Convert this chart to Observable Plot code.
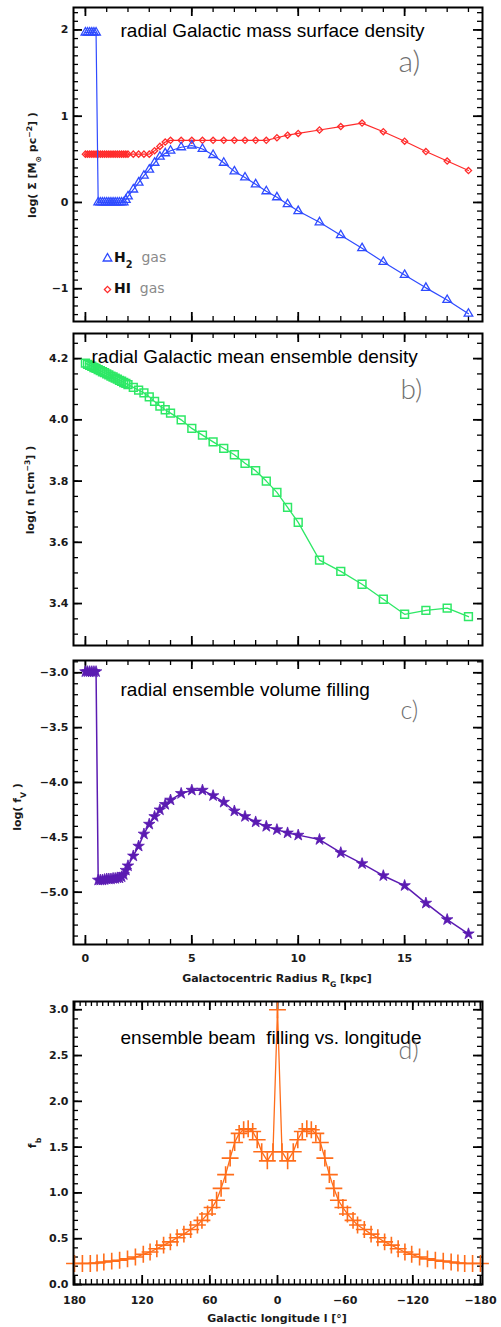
<!DOCTYPE html>
<html><head><meta charset="utf-8">
<script src="https://cdn.jsdelivr.net/npm/d3@7"></script>
<script src="https://cdn.jsdelivr.net/npm/@observablehq/plot@0.6"></script>
<style>
body{margin:0;background:#fff;}
#chart{width:501px;}
#chart svg{display:block;}
svg text{white-space:pre;}
</style></head><body><div id="chart"></div>
<script>
// ---- data ----
const radius = [0,0.1,0.2,0.3,0.4,0.5,0.6,0.7,0.8,0.9,1.0,1.1,1.2,1.3,1.4,1.5,1.6,1.7,1.8,1.9,2.0,
  2.25,2.5,2.75,3.0,3.25,3.5,3.75,4.0,4.5,5.0,5.5,6.0,6.5,7.0,7.5,8.0,8.5,9.0,9.5,10,11,12,13,14,15,16,17,18];
const h2Gas = [1.97,1.97,1.97,1.97,1.97,1.97,0,0,0,0,0,0,0,0,0,0,0,0,0,0.03,0.07,
  0.15,0.23,0.31,0.38,0.46,0.53,0.57,0.60,0.64,0.66,0.62,0.55,0.46,0.36,0.29,0.21,0.13,0.06,-0.02,-0.10,
  -0.23,-0.38,-0.53,-0.69,-0.84,-0.99,-1.13,-1.29];
const hiGas = [0.56,0.56,0.56,0.56,0.56,0.56,0.56,0.56,0.56,0.56,0.56,0.56,0.56,0.56,0.56,0.56,0.56,0.56,0.56,0.56,0.56,
  0.56,0.56,0.56,0.56,0.60,0.65,0.70,0.72,0.72,0.72,0.72,0.72,0.72,0.72,0.72,0.72,0.72,0.75,0.78,0.80,
  0.84,0.88,0.92,0.82,0.71,0.59,0.48,0.37];
const ensembleDensity = [4.185,4.181,4.178,4.175,4.171,4.168,4.164,4.161,4.157,4.154,4.150,4.147,4.143,4.140,4.136,4.133,4.129,4.126,4.122,4.119,4.115,
  4.106,4.097,4.088,4.075,4.060,4.045,4.033,4.022,4.000,3.972,3.950,3.928,3.907,3.886,3.858,3.834,3.800,3.763,3.714,3.665,
  3.542,3.505,3.463,3.414,3.365,3.378,3.385,3.357];
const volumeFilling = [-2.99,-2.99,-2.99,-2.99,-2.99,-2.99,-4.89,-4.89,-4.89,-4.885,-4.88,-4.88,-4.88,-4.875,-4.875,-4.87,-4.87,-4.86,-4.84,-4.80,-4.76,
  -4.67,-4.58,-4.47,-4.38,-4.31,-4.25,-4.20,-4.16,-4.10,-4.07,-4.07,-4.12,-4.18,-4.26,-4.31,-4.36,-4.40,-4.43,-4.46,-4.48,
  -4.52,-4.64,-4.74,-4.85,-4.94,-5.10,-5.25,-5.38];
const longitude = [180,173,166,160,154,147,140,133,126,119,113,107,101,95,89,83,77,71,67,62,58,54,50,46,42,38,34,30,26,22,18,14,9,4,0,
  -4,-9,-14,-18,-22,-26,-30,-34,-38,-42,-46,-50,-54,-58,-62,-67,-71,-77,-83,-89,-95,-101,-107,-113,-119,-126,-133,-140,-147,-154,-160,-166,-173,-180];
const beamFilling = [0.23,0.23,0.23,0.235,0.245,0.255,0.265,0.28,0.30,0.33,0.355,0.39,0.43,0.465,0.51,0.55,0.60,0.65,0.70,0.77,0.84,0.92,1.05,1.20,1.38,1.55,1.65,1.69,1.70,1.67,1.58,1.45,1.35,1.45,3.0,
  1.45,1.35,1.45,1.58,1.67,1.70,1.69,1.65,1.55,1.38,1.20,1.05,0.92,0.84,0.77,0.70,0.65,0.60,0.55,0.51,0.465,0.43,0.39,0.355,0.33,0.30,0.28,0.265,0.255,0.245,0.235,0.23,0.23,0.23];

const radiusTicks = [0,5,10,15];
const sigmaTicks = [-1,0,1,2];
const densityTicks = [3.4,3.6,3.8,4.0,4.2];
const fillingTicks = [-5.0,-4.5,-4.0,-3.5,-3.0];
const beamTicks = [0,0.5,1.0,1.5,2.0,2.5,3.0];
const longitudeTicks = [180,120,60,0,-60,-120,-180];

const titles = ["radial Galactic mass surface density","radial Galactic mean ensemble density","radial ensemble volume filling","ensemble beam  filling vs. longitude"];
const panelTags = ["a)","b)","c)","d)"];

// ---- styling ----
const ink = "#1a1a1a";
const blue = "#2f4bff", red = "#ff2b2b", green = "#2ee866", purple = "#5b1bb2", orange = "#ff6d1a";
const baseStyle = {fontFamily:"DejaVu Sans, sans-serif", fontSize:"11px", fontWeight:"bold", color: ink, background:"white"};
const W = 501, ML = 73, MR = 19, IW = W - ML - MR;

const rows = radius.map((r,i)=>({r, h2:h2Gas[i], hi:hiGas[i], n:ensembleDensity[i], fv:volumeFilling[i]}));
const lrows = longitude.map((l,i)=>({l, fb:beamFilling[i]}));

// IDL-style inward ticks on all four sides, drawn as tick marks with insets
function frameAxes({IH, xMajor, xMinor, yMajor, yMinor, xFormat, yFormat, showX, xPad}) {
  const id = d => d;
  const mj = {stroke:"black", strokeWidth:1.8}, mn = {stroke:"black", strokeWidth:1.3};
  const LJ = 9, LN = 5;
  return [
    Plot.tickX(xMinor, {x:id, insetTop:IH-LN, ...mn}),
    Plot.tickX(xMajor, {x:id, insetTop:IH-LJ, ...mj}),
    Plot.tickX(xMinor, {x:id, insetBottom:IH-LN, ...mn}),
    Plot.tickX(xMajor, {x:id, insetBottom:IH-LJ, ...mj}),
    Plot.tickY(yMinor, {y:id, insetRight:IW-LN, ...mn}),
    Plot.tickY(yMajor, {y:id, insetRight:IW-LJ, ...mj}),
    Plot.tickY(yMinor, {y:id, insetLeft:IW-LN, ...mn}),
    Plot.tickY(yMajor, {y:id, insetLeft:IW-LJ, ...mj}),
    showX ? Plot.axisX(xMajor, {anchor:"bottom", tickSize:0, tickPadding:xPad, tickFormat:xFormat, label:null}) : null,
    Plot.axisY(yMajor, {anchor:"left", tickSize:0, tickPadding:5, tickFormat:yFormat, label:null})
  ];
}
function title(txt, dx, dy) {
  return Plot.text([txt], {frameAnchor:"top-left", dx, dy, textAnchor:"start", lineAnchor:"bottom",
    fontSize:19, fontFamily:"Liberation Sans, Arial, sans-serif", fontWeight:"normal", fill:"black"});
}
function tag(txt, dx, dy, size) {
  return Plot.text([txt], {frameAnchor:"top-left", dx, dy, textAnchor:"start", lineAnchor:"bottom",
    fontSize:size, fontFamily:"Lato, sans-serif", fontWeight:300, fill:"#707070"});
}
function rich(svg, x, y, rotate, parts, opts = {}) {
  const t = d3.select(svg).append("text")
    .attr("transform", `translate(${x},${y})` + (rotate ? " rotate(-90)" : ""))
    .attr("text-anchor", opts.anchor || "middle")
    .attr("dy", "0.35em")
    .attr("font-family", opts.family || "DejaVu Sans, sans-serif")
    .attr("font-size", opts.size || 11)
    .attr("font-weight", opts.weight || "bold")
    .attr("fill", opts.fill || ink);
  for (const p of parts) {
    const o = typeof p === "string" ? {t:p} : p;
    const s = t.append("tspan").text(o.t);
    if (o.sub) s.attr("baseline-shift", "sub").attr("font-size", "70%");
    if (o.sup) s.attr("baseline-shift", "super").attr("font-size", "70%");
    if (o.fill) s.attr("fill", o.fill);
    if (o.weight) s.attr("font-weight", o.weight);
  }
}

const xR = [-0.56, 18.66];
const rMinor = d3.range(0, 19);
const f0 = d3.format(".0f"), f1 = d3.format(".1f");

// ---- panel a ----
const pa = Plot.plot({
  width:W, height:330, marginLeft:ML, marginRight:MR, marginTop:7, marginBottom:9,
  style: baseStyle,
  x:{domain:xR, axis:null}, y:{domain:[-1.38, 2.26]},
  marks:[
    ...frameAxes({IH:314, xMajor:radiusTicks, xMinor:rMinor, yMajor:sigmaTicks, yMinor:d3.range(-13,23).map(i=>i/10), yFormat:f0, showX:false}),
    Plot.line(rows, {x:"r", y:"hi", stroke:red, strokeWidth:1.2}),
    Plot.dot(rows, {x:"r", y:"hi", symbol:"diamond2", r:2.8, stroke:red, strokeWidth:1.3}),
    Plot.line(rows, {x:"r", y:"h2", stroke:blue, strokeWidth:1.2}),
    Plot.dot(rows, {x:"r", y:"h2", symbol:"triangle", r:3.2, stroke:blue, strokeWidth:1.3}),
    Plot.dot([0], {frameAnchor:"top-left", dx:34, dy:251, symbol:"triangle", r:3.2, stroke:blue, strokeWidth:1.3}),
    Plot.dot([0], {frameAnchor:"top-left", dx:34, dy:282, symbol:"diamond2", r:2.8, stroke:red, strokeWidth:1.3}),
    title(titles[0], 47, 29.7),
    tag(panelTags[0], 325, 64.7, 30),
    Plot.frame({stroke:"black", strokeWidth:2})
  ]
});
rich(pa, 32, 165, true, ["log( ", {t:"Σ", weight:"bold"}, " [M", {t:"⊙", sub:true}, " pc", {t:"−2", sup:true}, "] )"]);
rich(pa, 114, 257, false, [{t:"H", fill:"#111"}, {t:"2", sub:true}, {t:"  gas", fill:"#8a8a8a", weight:"normal"}], {anchor:"start", size:14});
rich(pa, 114, 288, false, [{t:"HI", fill:"#111"}, {t:"  gas", fill:"#8a8a8a", weight:"normal"}], {anchor:"start", size:14});

// ---- panel b ----
const pb = Plot.plot({
  width:W, height:320, marginLeft:ML, marginRight:MR, marginTop:3, marginBottom:5,
  style: baseStyle,
  x:{domain:xR, axis:null}, y:{domain:[3.263, 4.282]},
  marks:[
    ...frameAxes({IH:312, xMajor:radiusTicks, xMinor:rMinor, yMajor:densityTicks, yMinor:d3.range(66,86).map(i=>i/20), yFormat:f1, showX:false}),
    Plot.line(rows, {x:"r", y:"n", stroke:green, strokeWidth:1.3}),
    Plot.dot(rows, {x:"r", y:"n", symbol:"square", r:4.4, stroke:green, strokeWidth:1.5}),
    title(titles[1], 18, 29),
    tag(panelTags[1], 327, 65, 28),
    Plot.frame({stroke:"black", strokeWidth:2})
  ]
});
rich(pb, 30, 160, true, ["log( n [cm", {t:"−3", sup:true}, "] )"]);

// ---- panel c ----
const pc = Plot.plot({
  width:W, height:340, marginLeft:ML, marginRight:MR, marginTop:10, marginBottom:46,
  style: baseStyle,
  x:{domain:xR}, y:{domain:[-5.477, -2.888]},
  marks:[
    ...frameAxes({IH:284, xMajor:radiusTicks, xMinor:rMinor, yMajor:fillingTicks, yMinor:d3.range(-54,-28).map(i=>i/10), xFormat:f0, yFormat:f1, showX:true, xPad:10}),
    Plot.line(rows, {x:"r", y:"fv", stroke:purple, strokeWidth:1.5}),
    Plot.dot(rows, {x:"r", y:"fv", symbol:"star", r:3.6, fill:purple, stroke:purple, strokeWidth:0.8}),
    title(titles[2], 47, 35),
    tag(panelTags[2], 327, 58, 25),
    Plot.frame({stroke:"black", strokeWidth:2})
  ]
});
rich(pc, 17, 157, true, ["log( f", {t:"V", sub:true}, " )"]);
rich(pc, 277, 328, false, ["Galactocentric Radius R", {t:"G", sub:true}, " [kpc]"]);

// ---- panel d ----
const pd = Plot.plot({
  width:W, height:337, marginLeft:ML, marginRight:MR, marginTop:11, marginBottom:43,
  style: baseStyle,
  x:{domain:[180.9, -181.8]}, y:{domain:[0, 3.09]},
  marks:[
    ...frameAxes({IH:283, xMajor:longitudeTicks, xMinor:d3.range(-180,181,5), yMajor:beamTicks, yMinor:d3.range(0,31).map(i=>i/10), xFormat:f0, yFormat:f1, showX:true, xPad:12}),
    Plot.line(lrows, {x:"l", y:"fb", stroke:orange, strokeWidth:1.3}),
    Plot.dot(lrows, {x:"l", y:"fb", symbol:"plus", r:5.5, stroke:orange, strokeWidth:1.6}),
    title(titles[3], 47, 42),
    tag(panelTags[3], 325, 57, 25),
    Plot.frame({stroke:"black", strokeWidth:2})
  ]
});
rich(pd, 32, 153, true, ["f", {t:"b", sub:true}]);
rich(pd, 277, 328, false, ["Galactic longitude l [°]"]);

const chart = document.getElementById("chart");
[pa, pb, pc, pd].forEach(s => chart.appendChild(s));
</script></body></html>
